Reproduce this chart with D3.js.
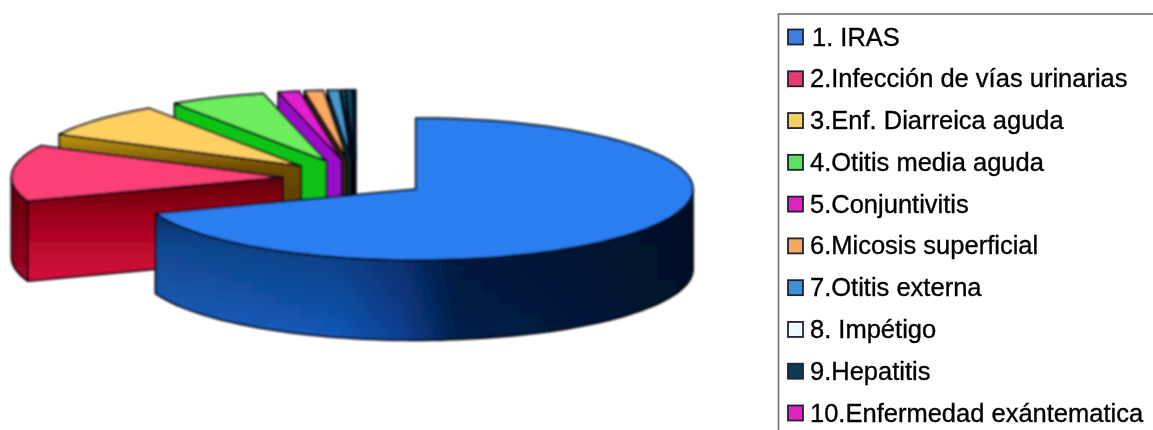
<!DOCTYPE html>
<html><head><meta charset="utf-8">
<script src="https://cdn.jsdelivr.net/npm/d3@7"></script>
<style>html,body{margin:0;padding:0;background:#fff;overflow:hidden}svg{display:block}</style>
</head><body><svg id="c" width="1153" height="430"></svg>
<script>
const categories=["1. IRAS","2.Infección de vías urinarias","3.Enf. Diarreica aguda","4.Otitis media aguda","5.Conjuntivitis","6.Micosis superficial","7.Otitis externa","8. Impétigo","9.Hepatitis","10.Enfermedad exántematica"];
const values=[69.45,13.05,8.05,5.7,1.25,1.1,0.7,0.2,0.36,0.14];
const topColors=["#2c7ef0","#fb3f74","#ffcf62","#6cee5e","#e21fd2","#ffa964","#4a97cf","#2a6a80","#0f4a66","#0d3550"];
const wallColors=["url(#wBlue)","url(#wRed)","url(#wYel)","#0fc414","#9a10c8","#3a2008","#0a3030","#062020","#041c1c","#031414"];
const swatchColors=["#3a7fe0","#e83a70","#f5cf60","#60e060","#e020c0","#f5a860","#3a90d8","#eef8ff","#0a3a55","#e020c0"];

const depth=80,explode=0.264,backScale=0.98;
const cx=356,cy=178.4,rx=277,ry=71;
const svg=d3.select("#c");
const defs=svg.append("defs");
const blur=(id,s)=>defs.append("filter").attr("id",id).attr("x","-5%").attr("y","-5%").attr("width","110%").attr("height","110%")
  .append("feGaussianBlur").attr("stdDeviation",s);
blur("blur",0.8);blur("blurText",0.55);
function grad(id,x2,y2,stops,units){
  const g=defs.append("linearGradient").attr("id",id).attr("x1",0).attr("y1",0).attr("x2",x2).attr("y2",y2);
  if(units){g.attr("gradientUnits","userSpaceOnUse").attr("x1",units[0]).attr("x2",units[1]).attr("y1",0).attr("y2",0);}
  stops.forEach(s=>g.append("stop").attr("offset",s[0]).attr("stop-color",s[1]).attr("stop-opacity",s[2]===undefined?1:s[2]));
}
grad("wBlue",1,0,[[0,"#1a66c8"],[0.34,"#1258b8"],[0.46,"#0a3f92"],[0.56,"#04204e"],[1,"#02142c"]],[155,693]);
grad("wRed",0,1,[[0,"#5e0008"],[0.35,"#9a0018"],[1,"#d8103e"]]);
grad("wYel",0,1,[[0,"#c29a10"],[0.3,"#6e4c04"],[1,"#4a3002"]]);
grad("shade",0,1,[[0,"#00081c",0.85],[0.35,"#000a20",0.35],[1,"#000",0]]);

const pie=d3.pie().sort(null).value(d=>d).startAngle(0).endAngle(2*Math.PI);
const arcs=pie(values);
const sx=d3.scaleLinear().domain([-1,1]).range([-rx,rx]);
const sy=d3.scaleLinear().domain([-1,1]).range([-ry,ry]);
const line=d3.line();
const g=svg.append("g").attr("filter","url(#blur)");

function rim(a,t){return [a.k*sx(Math.sin(t))+a.x,a.k*sy(-Math.cos(t))+a.y];}
function sample(t0,t1){
  const n=Math.max(2,Math.ceil((t1-t0)/(Math.PI/90))),out=[];
  for(let i=0;i<=n;i++)out.push(t0+(t1-t0)*i/n);
  return out;
}
const drop=p=>[p[0],p[1]+depth];
const HALF=Math.PI/2, TWO=Math.PI*1.5;
function drawSlice(d,i){
  const mid=(d.startAngle+d.endAngle)/2;
  const a={x:cx+sx(Math.sin(mid))*explode,y:cy+sy(-Math.cos(mid))*explode,k:i===0?1:backScale};
  const apex=[a.x,a.y];
  const sl=g.append("g");
  const paint=(pts)=>sl.append("path").attr("d",line(pts)+"Z").attr("fill",wallColors[i])
      .attr("stroke","#050508").attr("stroke-width",2).attr("stroke-linejoin","round");
  if(Math.sin(d.startAngle)<0){
    const r=rim(a,d.startAngle);
    paint([apex,r,drop(r),drop(apex)]);
  }
  const t0=Math.max(d.startAngle,HALF),t1=Math.min(d.endAngle,TWO);
  if(t1>t0){
    const up=sample(t0,t1).map(t=>rim(a,t));
    const wall=up.concat(up.slice().reverse().map(drop));
    paint(wall);
    if(i===0) sl.append("path").attr("d",line(wall)+"Z").attr("fill","url(#shade)").attr("stroke","none");
    if(i===1) sl.append("path").attr("d",line(wall)+"Z").attr("fill","#4a0008").attr("fill-opacity",0.45).attr("stroke","none");
  }
  const top=[apex].concat(sample(d.startAngle,d.endAngle).map(t=>rim(a,t)));
  sl.append("path").attr("d",line(top)+"Z").attr("fill",topColors[i])
    .attr("stroke","#050a14").attr("stroke-width",2).attr("stroke-linejoin","round");
}
for(let i=arcs.length-1;i>=0;i--)drawSlice(arcs[i],i);

const rows=d3.scaleLinear().domain([0,9]).range([37,413]);
const leg=svg.append("g").attr("filter","url(#blurText)");
leg.append("rect").attr("x",778.5).attr("y",14).attr("width",420).attr("height",470)
  .attr("fill","#fff").attr("stroke","#707070").attr("stroke-width",1.6);
categories.forEach((c,i)=>{
  const y=rows(i);
  leg.append("rect").attr("x",788).attr("y",y-7.5).attr("width",15).attr("height",15)
    .attr("fill",swatchColors[i]).attr("stroke","#223").attr("stroke-width",1.8);
  leg.append("text").attr("x",i===0?812:810).attr("y",y+8.5).attr("font-family","'Liberation Sans',Arial,sans-serif")
    .attr("font-size",25.5).attr("fill","#000").attr("stroke","#000").attr("stroke-width",0.35).text(c);
});
</script></body></html>
